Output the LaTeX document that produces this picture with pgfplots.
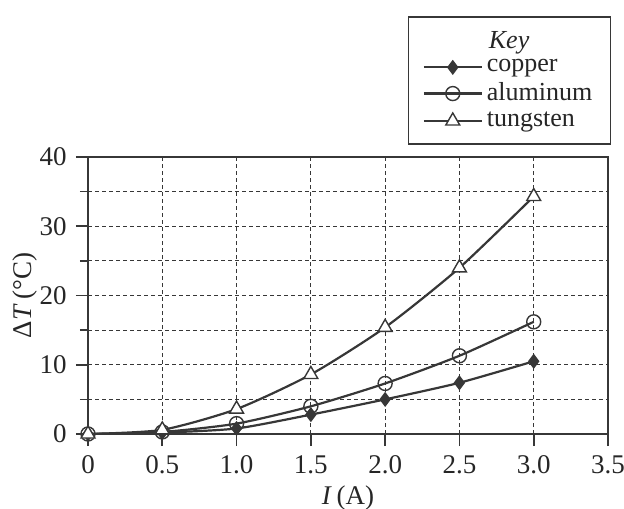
\documentclass[border=0pt]{standalone}
\usepackage{fontspec}
\setmainfont{Liberation Serif}
\usepackage{pgfplots}
\pgfplotsset{compat=1.18}
\definecolor{ink}{RGB}{55,55,55}
\begin{document}
\fontsize{13.5}{15}\selectfont
\begin{tikzpicture}
\useasboundingbox (-44pt,-37pt) rectangle (268pt,217pt);
\begin{axis}[
  at={(0,0)}, anchor=south west,
  scale only axis, width=260pt, height=138.5pt,
  xmin=0, xmax=3.5, ymin=0, ymax=40,
  xtick={0,0.5,1,1.5,2,2.5,3,3.5},
  xticklabels={0,0.5,1.0,1.5,2.0,2.5,3.0,3.5},
  ytick={0,10,20,30,40},
  minor ytick={5,15,25,35},
  tick pos=left, tick align=outside,
  major tick length=6pt, minor tick length=4pt,
  tick style={ink, line width=0.8pt},
  grid=both,
  major grid style={ink, line width=0.5pt, dash pattern=on 2pt off 1.5pt},
  minor grid style={ink, line width=0.5pt, dash pattern=on 2pt off 1.5pt},
  axis line style={ink, line width=0.9pt},
  /pgf/number format/assume math mode=true,
  ticklabel style={font=\fontsize{13.5}{15}\selectfont, text=black!85},
  xlabel={\textit{I}\,(A)},
  ylabel={Δ\textit{T}\,(°C)},
  label style={font=\fontsize{13.5}{15}\selectfont, text=black!85},
  xlabel style={yshift=3pt},
  ylabel style={yshift=-8pt},
  legend style={at={(1.006,1.043)}, anchor=south east, draw=ink, line width=0.8pt,
    font=\fontsize{13}{13}\selectfont, text=black!85, row sep=-0.5pt,
    inner xsep=7pt, inner ysep=5pt, cells={anchor=west}},
  legend image code/.code={%
    \draw[#1, mark repeat=2, mark phase=2] plot coordinates {(0pt,0pt) (14.5pt,0pt) (29pt,0pt)};},
  every axis plot/.append style={ink, line width=1.1pt, smooth, tension=0.4},
]
\addlegendimage{empty legend}
\addlegendentry{\hspace{1pt}\textit{Key}\rule[-3pt]{0pt}{3pt}}
\addplot[mark=diamond*, mark size=3.3pt, mark options={fill=ink, line width=0.6pt}]
  coordinates {(0,0) (0.5,0.2) (1.0,0.8) (1.5,2.8) (2.0,5.0) (2.5,7.4) (3.0,10.5)};
\addlegendentry{copper}
\addplot[mark=o, mark size=3.5pt, mark options={fill=white, line width=0.7pt}]
  coordinates {(0,0) (0.5,0.3) (1.0,1.5) (1.5,4.0) (2.0,7.3) (2.5,11.3) (3.0,16.2)};
\addlegendentry{aluminum}
\addplot[mark=triangle*, mark size=4pt, mark options={fill=white, line width=0.7pt}]
  coordinates {(0,0) (0.5,0.6) (1.0,3.6) (1.5,8.6) (2.0,15.4) (2.5,24.0) (3.0,34.3)};
\addlegendentry{tungsten}
\end{axis}
\end{tikzpicture}
\end{document}
